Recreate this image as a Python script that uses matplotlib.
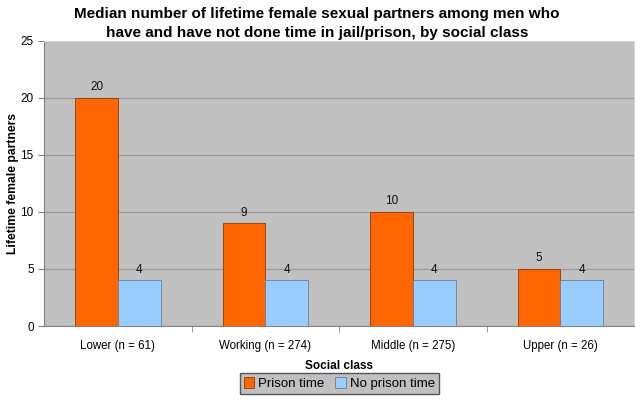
import matplotlib
matplotlib.use("Agg")
import matplotlib.pyplot as plt
import numpy as np

categories = ["Lower (n = 61)", "Working (n = 274)", "Middle (n = 275)", "Upper (n = 26)"]
prison = [20, 9, 10, 5]
no_prison = [4, 4, 4, 4]

ORANGE, LIGHTBLUE = "#ff6600", "#99ccff"
PLOT_BG, GRID = "#c0c0c0", "#9a9a9a"

plt.rcParams["font.family"] = ["Liberation Sans", "DejaVu Sans"]

fig = plt.figure(figsize=(6.4, 4.01), dpi=100)
ax = fig.add_axes([0.069, 0.187, 0.922, 0.711])
ax.set_facecolor(PLOT_BG)

x = np.arange(len(categories))
w = 0.29
b1 = ax.bar(x - w / 2, prison, w, color=ORANGE, edgecolor="#8a3a10", lw=0.6,
            label="Prison time", zorder=3)
b2 = ax.bar(x + w / 2, no_prison, w, color=LIGHTBLUE, edgecolor="#6a7f99", lw=0.6,
            label="No prison time", zorder=3)
for bars in (b1, b2):
    for b in bars:
        ax.text(b.get_x() + b.get_width() / 2, b.get_height() + 0.4, f"{b.get_height():g}",
                ha="center", va="bottom", fontsize=8.5, color="#111111")

ax.set_xlim(-0.5, len(categories) - 0.5)
ax.set_ylim(0, 25)
ax.set_yticks(range(0, 26, 5))
ax.set_xticks(x, categories)
ax.set_xticks(np.arange(0.5, len(categories) - 1, 1), minor=True)
ax.tick_params(axis="x", which="major", length=0, labelsize=8.3, pad=10)
ax.tick_params(axis="x", which="minor", length=4, color="#808080")
ax.tick_params(axis="y", length=4, color="#808080", labelsize=8.5)
ax.yaxis.grid(True, color=GRID, lw=0.9, zorder=1)
ax.set_axisbelow(True)
for s in ("top", "right"):
    ax.spines[s].set_color("#d8d8d8")
for s in ("left", "bottom"):
    ax.spines[s].set_color("#808080")

ax.set_ylabel("Lifetime female partners", fontsize=8.7, fontweight="bold")
ax.yaxis.set_label_coords(-0.043, 0.5)
ax.set_xlabel("Social class", fontsize=8.5, fontweight="bold", labelpad=6)
fig.suptitle("Median number of lifetime female sexual partners among men who\n"
             "have and have not done time in jail/prison, by social class",
             fontsize=11, fontweight="bold", y=0.982, x=0.495, linespacing=1.45)

leg = fig.legend(handles=[b1, b2], loc="center", bbox_to_anchor=(0.53, 0.043), ncol=2,
                 fontsize=9.5, frameon=True, fancybox=False, handlelength=0.8,
                 handleheight=0.8, handletextpad=0.3, columnspacing=0.8,
                 borderpad=0.3)
leg.get_frame().set_facecolor(PLOT_BG)
leg.get_frame().set_edgecolor("#555555")
leg.get_frame().set_alpha(1)

fig.savefig("out.png", dpi=100)
